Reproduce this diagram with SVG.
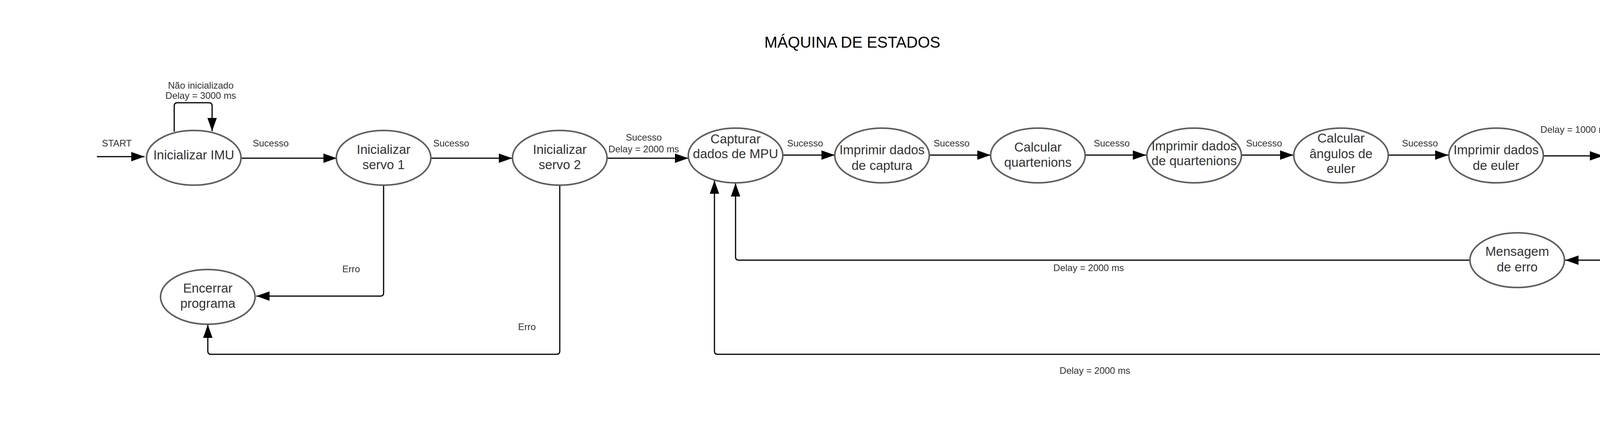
<svg xmlns="http://www.w3.org/2000/svg" width="4800" height="1088" viewBox="0 0 4800 1088">
<defs>
<style>
.node ellipse{fill:#ffffff;stroke:#5e5e5e;stroke-width:4}
.node text{font-family:"Liberation Sans",Arial,sans-serif;font-size:33px;fill:#333333;text-anchor:middle}
.lbl{font-family:"Liberation Sans",Arial,sans-serif;font-size:24px;fill:#333333;text-anchor:middle}
.title{font-family:"Liberation Sans",Arial,sans-serif;font-size:40px;fill:#000000;text-anchor:middle}
#connectors path{fill:none;stroke:#000000;stroke-width:3;marker-end:url(#arrow)}
</style>
<marker id="arrow" markerUnits="userSpaceOnUse" markerWidth="34" markerHeight="24" refX="34" refY="12" orient="auto">
<path d="M0,0 L34,12 L0,24 Z" fill="#000000"/>
</marker>
</defs>
<rect width="4800" height="1088" fill="#ffffff"/>
<text class="title" x="2182" y="122">MÁQUINA DE ESTADOS</text>

<g id="connectors">
<path d="M248 401 H370"/>
<path d="M446 337 V271 Q446 263 454 263 H535 Q543 263 543 271 V336"/>
<path d="M618 405 H862"/>
<path d="M1104 405 H1311"/>
<path d="M1554 405 H1762"/>
<path d="M2004 397 H2137"/>
<path d="M2380 397 H2536"/>
<path d="M2779 397 H2934"/>
<path d="M3179 397 H3311"/>
<path d="M3555 397 H3708"/>
<path d="M3952 399 H4104"/>
<path d="M4226 474 V658 Q4226 666 4218 666 H4007"/>
<path d="M3763 666 H1891 Q1883 666 1883 658 V469"/>
<path d="M4347 406 H4416 Q4424 406 4424 414 V899 Q4424 907 4416 907 H1837 Q1829 907 1829 899 V462"/>
<path d="M982 474 V750 Q982 758 974 758 H656"/>
<path d="M1433 474 V899 Q1433 907 1425 907 H540 Q532 907 532 899 V831"/>
</g>

<g id="labels">
<text class="lbl" x="299" y="375">START</text>
<text class="lbl" x="514" y="227">Não inicializado</text>
<text class="lbl" x="514" y="253">Delay = 3000 ms</text>
<text class="lbl" x="693" y="375">Sucesso</text>
<text class="lbl" x="1155" y="375">Sucesso</text>
<text class="lbl" x="1648" y="360">Sucesso</text>
<text class="lbl" x="1648" y="390">Delay = 2000 ms</text>
<text class="lbl" x="2061" y="375">Sucesso</text>
<text class="lbl" x="2436" y="375">Sucesso</text>
<text class="lbl" x="2846" y="375">Sucesso</text>
<text class="lbl" x="3236" y="375">Sucesso</text>
<text class="lbl" x="3635" y="375">Sucesso</text>
<text class="lbl" x="4034" y="340">Delay = 1000 ms</text>
<text class="lbl" x="4498" y="488">Sucesso</text>
<text class="lbl" x="4175" y="640">Erro</text>
<text class="lbl" x="2787" y="694">Delay = 2000 ms</text>
<text class="lbl" x="2803" y="957">Delay = 2000 ms</text>
<text class="lbl" x="899" y="697">Erro</text>
<text class="lbl" x="1349" y="845">Erro</text>
</g>

<g id="n-imu" class="node"><ellipse cx="496" cy="404" rx="121" ry="70"/><text x="496" y="408">Inicializar IMU</text></g>
<g id="n-servo1" class="node"><ellipse cx="982" cy="404" rx="121" ry="70"/><text x="982" y="394">Inicializar</text><text x="982" y="433">servo 1</text></g>
<g id="n-servo2" class="node"><ellipse cx="1433" cy="404" rx="121" ry="70"/><text x="1433" y="394">Inicializar</text><text x="1433" y="433">servo 2</text></g>
<g id="n-capturar" class="node"><ellipse cx="1883" cy="398" rx="121" ry="70"/><text x="1883" y="367">Capturar</text><text x="1883" y="405">dados de MPU</text></g>
<g id="n-imprcapt" class="node"><ellipse cx="2258" cy="398" rx="121" ry="70"/><text x="2258" y="395">Imprimir dados</text><text x="2258" y="435">de captura</text></g>
<g id="n-calcq" class="node"><ellipse cx="2657" cy="398" rx="121" ry="70"/><text x="2657" y="388">Calcular</text><text x="2657" y="427">quartenions</text></g>
<g id="n-imprq" class="node"><ellipse cx="3057" cy="398" rx="121" ry="70"/><text x="3057" y="385">Imprimir dados</text><text x="3057" y="423">de quartenions</text></g>
<g id="n-calce" class="node"><ellipse cx="3433" cy="398" rx="121" ry="70"/><text x="3433" y="365">Calcular</text><text x="3433" y="405">ângulos de</text><text x="3433" y="443">euler</text></g>
<g id="n-impre" class="node"><ellipse cx="3830" cy="398" rx="121" ry="70"/><text x="3830" y="395">Imprimir dados</text><text x="3830" y="435">de euler</text></g>
<g id="n-setar" class="node"><ellipse cx="4226" cy="404" rx="121" ry="70"/><text x="4226" y="402">Setar ângulos</text><text x="4226" y="440">dos servos</text></g>
<g id="n-mensagem" class="node"><ellipse cx="3884" cy="666" rx="121" ry="70"/><text x="3884" y="655">Mensagem</text><text x="3884" y="695">de erro</text></g>
<g id="n-encerrar" class="node"><ellipse cx="532" cy="760" rx="121" ry="70"/><text x="532" y="749">Encerrar</text><text x="532" y="788">programa</text></g>
</svg>
